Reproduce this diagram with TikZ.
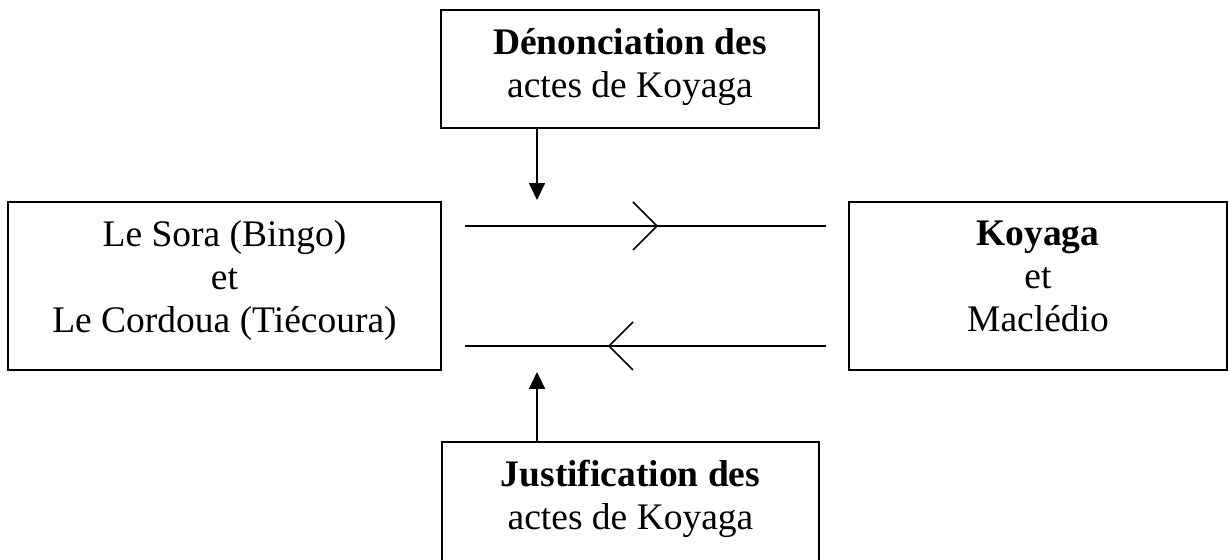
\documentclass[tikz,border=0pt]{standalone}
\usepackage{fontspec}
\setmainfont{Liberation Serif}
\usetikzlibrary{arrows.meta,fit,calc}
\begin{document}
\begin{tikzpicture}[x=0.32pt,y=-0.32pt,
  box/.style={draw,line width=0.6pt,inner sep=0pt},
  txt/.style={align=center,inner sep=0pt,font=\fontsize{12}{13.76}\selectfont},
  flow/.style={line width=0.5pt},
  push/.style={line width=0.5pt,-{Triangle[width=5.1pt,length=5.4pt]}},
  chev/.style={line width=0.5pt,line join=miter}]
  \useasboundingbox (0,0) rectangle (1229,560);
  \clip (0,0) rectangle (1229,560);
  % the four boxes
  \node[box,fit={(441,10) (819,128)}] (top) {};
  \node[box,fit={(8,202) (441,370)}] (left) {};
  \node[box,fit={(849,202) (1227,370)}] (right) {};
  \node[box,fit={(442,442) (819,620)}] (bottom) {};
  % their texts (base = baseline of the last line)
  \node[txt,anchor=base] (toptxt) at (630,98) {\textbf{Dénonciation des}\\actes de Koyaga};
  \node[txt,anchor=base] (lefttxt) at (224.5,333) {Le Sora (Bingo)\\et\\Le Cordoua (Tiécoura)};
  \node[txt,anchor=base] (righttxt) at (1038,332) {\textbf{Koyaga}\\et\\Maclédio};
  \node[txt,anchor=base] (bottomtxt) at (630.5,530) {\textbf{Justification des}\\actes de Koyaga};
  % the two exchange lines
  \coordinate (upA) at (465,226);
  \coordinate (upB) at (826,226);
  \coordinate (loA) at (465,346);
  \coordinate (loB) at (826,346);
  \draw[flow] (upA) -- (upB);
  \draw[flow] (loA) -- (loB);
  \coordinate (upTip) at (657,226);
  \coordinate (loTip) at (609,346);
  \draw[chev] ($(upTip)+(-24,-24)$) -- (upTip) -- ($(upTip)+(-24,24)$);
  \draw[chev] ($(loTip)+(24,-24)$) -- (loTip) -- ($(loTip)+(24,24)$);
  % the two vertical arrows
  \coordinate (downEnd) at (537,200);
  \coordinate (upEnd) at (537,372);
  \draw[push] (top.south -| downEnd) -- (downEnd);
  \draw[push] (bottom.north -| upEnd) -- (upEnd);
\end{tikzpicture}
\end{document}
